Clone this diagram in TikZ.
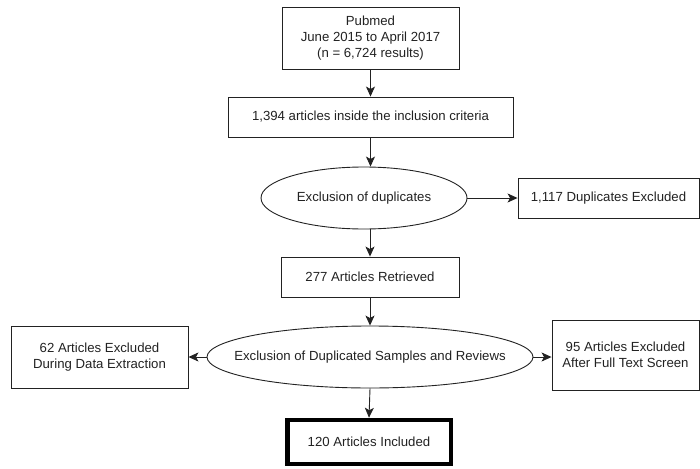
\documentclass[tikz,border=0pt]{standalone}
\usepackage{fontspec}
\setmainfont{Liberation Sans}
\usetikzlibrary{shapes.geometric,arrows.meta}
\definecolor{ink}{HTML}{222222}
\begin{document}
\begin{tikzpicture}[x=1pt,y=-1pt,
  every node/.style={text=ink, font=\fontsize{13.2}{16.3}\selectfont, align=center, inner sep=0pt},
  box/.style={draw=ink, line width=0.9pt},
  ell/.style={ellipse, draw=ink, line width=0.9pt},
  arr/.style={draw=ink, line width=0.9pt, -{Stealth[length=10pt,width=9pt,inset=2.5pt]}}]
\useasboundingbox (0,0) rectangle (700,468);
\node[box, minimum width=177pt, minimum height=62pt] (pub) at (370.5,38) {Pubmed\\June 2015 to April 2017\\(n = 6,724 results)};
\node[box, minimum width=285pt, minimum height=40pt] (incl) at (370.5,117) {1,394 articles inside the inclusion criteria};
\node[ell, minimum width=206pt, minimum height=62pt, label=center:{Exclusion of duplicates}] (ell1) at (364,198) {};
\node[box, minimum width=181pt, minimum height=40pt] (dup) at (608.5,198) {1,117 Duplicates Excluded};
\node[box, minimum width=178pt, minimum height=40pt] (ret) at (370,277) {277 Articles Retrieved};
\node[ell, minimum width=326pt, minimum height=62pt, label=center:{Exclusion of Duplicated Samples and Reviews}] (ell2) at (370,357) {};
\node[box, minimum width=177pt, minimum height=62pt] (left) at (99.5,357) {62 Articles Excluded\\During Data Extraction};
\node[box, minimum width=147pt, minimum height=70pt] (right) at (625.5,355) {95 Articles Excluded\\After Full Text Screen};
\node[draw=black, line width=4.5pt, minimum width=163.5pt, minimum height=44pt] (final) at (369,442) {120 Articles Included};
\draw[arr] (pub.south) -- (incl.north);
\draw[arr] (incl.south) -- (incl.south |- ell1.north);
\draw[arr] (ell1.east) -- (dup.west);
\draw[arr] (ell1.south -| ret.north) -- (ret.north);
\draw[arr] (ret.south) -- (ell2.north);
\draw[arr] (ell2.west) -- (left.east);
\draw[arr] (ell2.east) -- (ell2.east -| right.west);
\draw[arr] (ell2.south) -- (final.north);
\end{tikzpicture}
\end{document}
